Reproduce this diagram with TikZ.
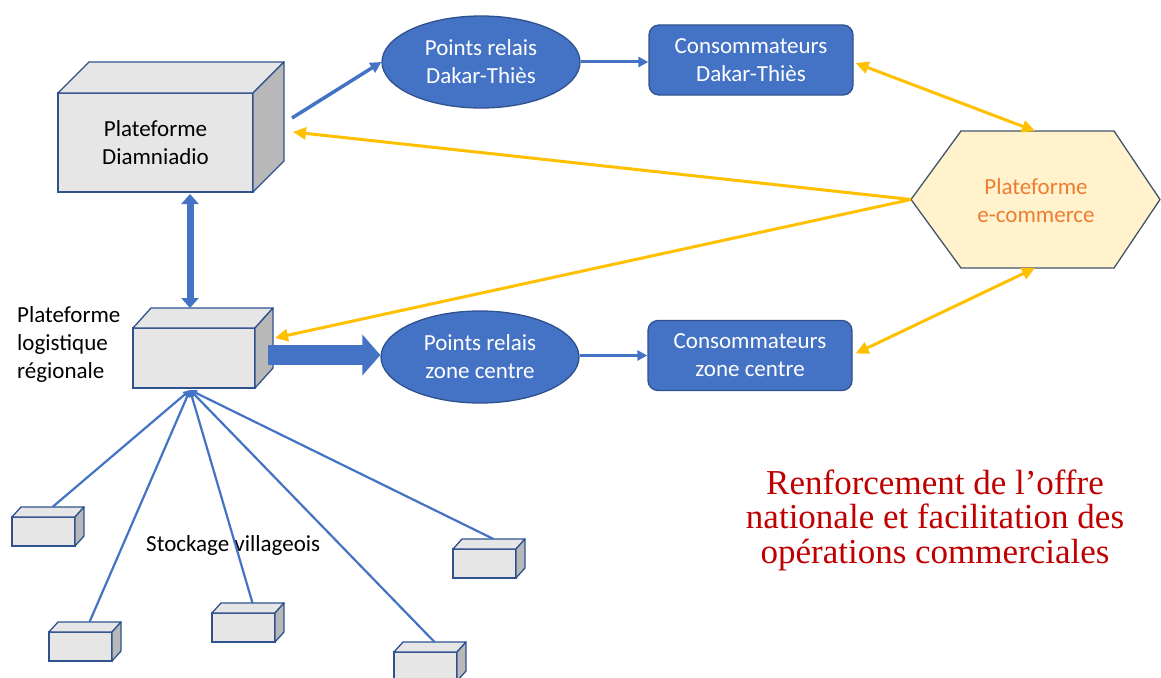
\documentclass[tikz,border=0pt]{standalone}
\usepackage{fontspec}
\setmainfont{Carlito}
\newfontfamily\redserif{Liberation Serif}
\usetikzlibrary{arrows.meta,shapes.geometric,calc}
\definecolor{pblue}{HTML}{4472C4}
\definecolor{pedge}{HTML}{2F528F}
\definecolor{pyellow}{HTML}{FFC000}
\definecolor{hexfill}{HTML}{FFF2CC}
\definecolor{hexedge}{HTML}{44546A}
\definecolor{orangetxt}{HTML}{ED7D31}
\definecolor{redtxt}{HTML}{C00000}
\definecolor{boxfront}{HTML}{E7E6E6}
\definecolor{boxside}{HTML}{B8B8B8}

% #1 name, #2 x, #3 y (top of front face), #4 width, #5 height, #6 depth x, #7 depth y
\newcommand\mycube[7]{%
  \node[draw=pedge, fill=boxfront, line width=1.3pt, minimum width=#4pt, minimum height=#5pt,
        anchor=north west, inner sep=0pt, outer sep=0pt] (#1) at (#2,#3) {};
  \draw[pedge, fill=boxfront, line width=1.3pt, line join=round]
    (#1.north west) -- ++(#6,-#7) -- ++(#4,0) -- (#1.north east) -- cycle;
  \draw[pedge, fill=boxside, line width=1.3pt, line join=round]
    (#1.north east) -- ++(#6,-#7) -- ++(0,#5) -- (#1.south east) -- cycle;
  \coordinate (#1top) at ($(#1.north)+(#6,-#7)$);
}

\begin{document}
\begin{tikzpicture}[x=1pt,y=-1pt,
  txt/.style={font=\fontsize{23}{28}\selectfont, align=center},
  relay/.style={ellipse, draw=pedge, line width=1.3pt, fill=pblue, text=white,
     minimum width=198pt, minimum height=92pt, inner sep=0pt, txt},
  consumer/.style={rectangle, rounded corners=10pt, draw=pedge, line width=1.3pt, fill=pblue,
     text=white, minimum width=204pt, minimum height=70pt, inner sep=0pt, txt},
  bluearrow/.style={draw=pblue, line width=3pt, -{Triangle[length=10pt,width=10pt]}},
  fanline/.style={draw=pblue, line width=2.2pt, -{Triangle[length=7pt,width=6pt]}},
  yarrow/.style={draw=pyellow, line width=3pt, -{Triangle[length=13pt,width=12pt]}},
  ydouble/.style={draw=pyellow, line width=3pt, {Triangle[length=13pt,width=12pt]}-{Triangle[length=13pt,width=12pt]}},
]
\useasboundingbox (0,0) rectangle (1161,677);
\fill[white] (0,0) rectangle (1161,677);

% platforms
\mycube{b1}{58}{93}{195}{99}{31}{31}
\node[txt] (b1lbl) at (b1.center) {Plateforme\\Diamniadio};
\mycube{b2}{133}{328}{122}{60}{18}{20}
\node[txt, anchor=north west, align=left, inner sep=0pt] (b2lbl) at (17,306) {Plateforme\\logistique\\régionale};

% village storage
\node[txt, anchor=base west, inner sep=0pt] (stock) at (146,551) {Stockage villageois};
\mycube{s1}{12}{517}{63}{29}{9}{10}
\mycube{s2}{49}{632}{63}{29}{9}{10}
\mycube{s3}{212}{613}{63}{29}{9}{10}
\mycube{s4}{394}{652}{63}{29}{9}{10}
\mycube{s5}{453}{549}{63}{29}{9}{10}
\coordinate (hub) at (190,390);

% relay points and consumers
\node[relay] (e1) at (481,62) {Points relais\\Dakar-Thiès};
\node[consumer] (c1) at (751,60) {Consommateurs\\Dakar-Thiès};
\node[relay] (e2) at (480,357) {Points relais\\zone centre};
\node[consumer] (c2) at (750,355.5) {Consommateurs\\zone centre};

% e-commerce hexagon
\draw[hexedge, fill=hexfill, line width=1.3pt, line join=round]
  (911,199.5) -- (961,131) -- (1114,131) -- (1160,199.5) -- (1114,268) -- (961,268) -- cycle;
\node[txt, text=orangetxt] (hex) at (1036,201) {Plateforme\\e-commerce};
\coordinate (hexL) at (911,199.5);
\coordinate (hexT) at (1035,131);
\coordinate (hexB) at (1035,268);

% red caption
\node[font=\redserif\fontsize{35}{34.5}\selectfont, text=redtxt, align=center] (caption) at (935,520)
  {Renforcement de l’offre\\nationale et facilitation des\\opérations commerciales};

% blue connectors
\coordinate (b1out) at (292,118);
\draw[draw=pblue, line width=3.5pt, -{Triangle[length=11pt,width=11pt]}] (b1out) -- (e1.west);
\draw[bluearrow] (e1.east) -- (c1.west |- e1.east);
\draw[bluearrow] (e2.east |- c2.west) -- (c2.west);
\draw[draw=pblue, line width=7pt, {Triangle[length=10pt,width=17pt]}-{Triangle[length=10pt,width=17pt]}]
  (190,194) -- (190,308);
\coordinate (b2out) at (268,355);
\draw[draw=pblue, line width=20pt, -{Triangle[length=18pt,width=40pt]}] (b2out) -- (e2.west |- b2out);

% fan from village storage
\draw[fanline] (s1top) -- (hub);
\draw[fanline] (s2top) -- (hub);
\draw[fanline] (s3top) -- (hub);
\draw[fanline] (s4top) -- (hub);
\draw[fanline] (s5top) -- (hub);

% yellow connectors
\coordinate (b1in) at (293,132);
\coordinate (b2in) at (275,338);
\draw[yarrow] (hexL) -- (b1in);
\draw[yarrow] (hexL) -- (b2in);
\draw[ydouble] ($(c1.east)+(2,3)$) -- (hexT);
\draw[ydouble] (hexB) -- ($(c2.east)+(3,-2)$);
\end{tikzpicture}
\end{document}
